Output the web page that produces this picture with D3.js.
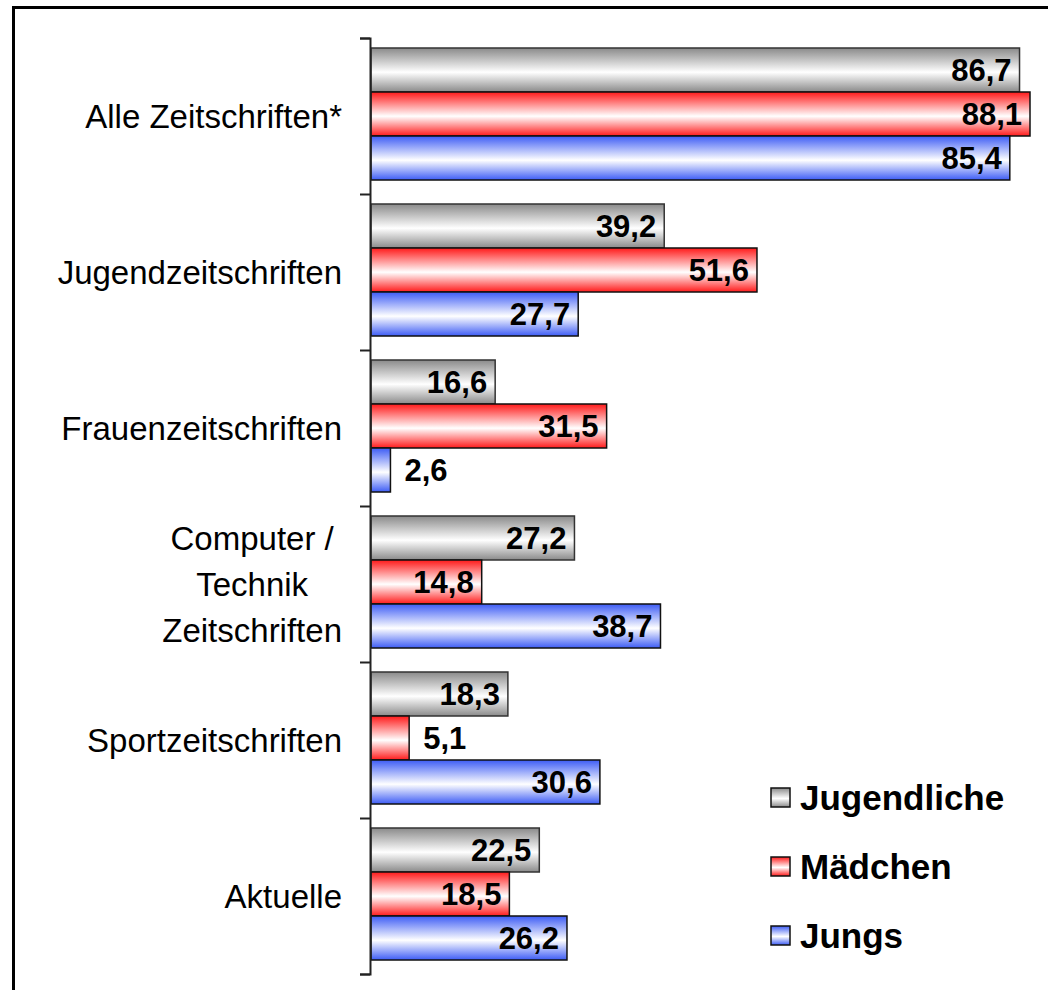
<!DOCTYPE html>
<html>
<head>
<meta charset="utf-8">
<script src="https://cdn.jsdelivr.net/npm/d3@7"></script>
<style>
  body { margin: 0; background: #fff; }
  svg { display: block; font-family: "Liberation Sans", Arial, sans-serif; }
</style>
</head>
<body>
<svg id="svg" width="1048" height="990"></svg>
<script>
// data
let categories = ["Alle Zeitschriften*", "Jugendzeitschriften", "Frauenzeitschriften",
                  "Computer / Technik Zeitschriften", "Sportzeitschriften", "Aktuelle"];
let categoryLines = [["Alle Zeitschriften*"], ["Jugendzeitschriften"], ["Frauenzeitschriften"],
                     ["Computer /", "Technik", "Zeitschriften"], ["Sportzeitschriften"], ["Aktuelle"]];
let seriesNames = ["Jugendliche", "Mädchen", "Jungs"];
let jugendliche = [86.7, 39.2, 16.6, 27.2, 18.3, 22.5];
let maedchen    = [88.1, 51.6, 31.5, 14.8, 5.1, 18.5];
let jungs       = [85.4, 27.7, 2.6, 38.7, 30.6, 26.2];

let seriesValues = [jugendliche, maedchen, jungs];
let edgeColors = ["#8a8a8a", "#ff1a1a", "#3d5cf5"];
let strokeColors = ["#333", "#111", "#111"];

let svg = d3.select("#svg");

// frame (right and bottom edge run off the picture)
svg.append("rect")
    .attr("x", 13.5).attr("y", 7.5)
    .attr("width", 1100).attr("height", 1100)
    .attr("fill", "none")
    .attr("stroke", "#000")
    .attr("stroke-width", 3);

// gradients
let defs = svg.append("defs");
edgeColors.forEach((c, i) => {
    let g = defs.append("linearGradient")
        .attr("id", "grad" + i)
        .attr("x1", 0).attr("y1", 0).attr("x2", 0).attr("y2", 1);
    g.append("stop").attr("offset", "0%").attr("stop-color", c);
    g.append("stop").attr("offset", "55%").attr("stop-color", "#fff");
    g.append("stop").attr("offset", "100%").attr("stop-color", c);
});

let x0 = 371;
let x = d3.scaleLinear().domain([0, 88.1]).range([x0, 1030]);

let y = d3.scaleBand().domain(categories).range([38, 974]).padding(0);
let groupPad = 12;
let ySub = d3.scaleBand().domain(d3.range(3)).range([groupPad - 2, y.bandwidth() - groupPad - 2]).padding(0);

// bars
let groups = svg.selectAll(".group")
    .data(categories)
    .enter()
    .append("g")
    .attr("class", "group")
    .attr("transform", d => `translate(0,${y(d)})`);

groups.each(function(cat, ci) {
    let g = d3.select(this);
    seriesValues.forEach((vals, si) => {
        let v = vals[ci];
        g.append("rect")
            .attr("x", x(0))
            .attr("y", ySub(si))
            .attr("width", x(v) - x(0))
            .attr("height", ySub.bandwidth())
            .attr("fill", `url(#grad${si})`)
            .attr("stroke", strokeColors[si])
            .attr("stroke-width", 1.5);

        let label = v.toFixed(1).replace(".", ",");
        let t = g.append("text")
            .attr("y", ySub(si) + ySub.bandwidth() / 2)
            .attr("dy", "0.36em")
            .attr("font-size", 31)
            .attr("font-weight", "bold")
            .attr("fill", "#000")
            .text(label);
        let w = t.node().getComputedTextLength();
        if (x(v) - x(0) > w + 14) {
            t.attr("x", x(v) - 8).attr("text-anchor", "end");
        } else {
            t.attr("x", x(v) + 14).attr("text-anchor", "start");
        }
    });
});

// axis
let axis = d3.axisLeft(d3.scaleLinear().domain([0, 6]).range([38, 974]))
    .ticks(6)
    .tickSize(10)
    .tickFormat("");
svg.append("g")
    .attr("transform", `translate(${x0 - 1},0)`)
    .call(axis)
    .call(g => g.selectAll("line, path").attr("stroke", "#222").attr("stroke-width", 2));

// category labels (multi-line labels are centred as a block, right-aligned to the axis)
categories.forEach((cat, ci) => {
    let lines = categoryLines[ci];
    let cy = y(cat) + y.bandwidth() / 2;
    let lh = 46;
    let t = svg.append("text")
        .attr("font-size", 33)
        .attr("fill", "#000");
    lines.forEach((ln, li) => {
        t.append("tspan")
            .attr("y", cy + (li - (lines.length - 1) / 2) * lh)
            .attr("dy", "0.36em")
            .text(ln);
    });
    if (lines.length === 1) {
        t.attr("text-anchor", "end").selectAll("tspan").attr("x", 342);
    } else {
        let maxW = d3.max(t.selectAll("tspan").nodes(), n => n.getComputedTextLength());
        t.attr("text-anchor", "middle").selectAll("tspan").attr("x", 342 - maxW / 2);
    }
});

// legend
let legend = svg.append("g");
seriesNames.forEach((name, si) => {
    let ly = 797 + si * 69;
    legend.append("rect")
        .attr("x", 771).attr("y", ly - 9)
        .attr("width", 19).attr("height", 19)
        .attr("fill", `url(#grad${si})`)
        .attr("stroke", "#111")
        .attr("stroke-width", 1.5);
    legend.append("text")
        .attr("x", 800).attr("y", ly)
        .attr("dy", "0.36em")
        .attr("font-size", 35)
        .attr("font-weight", "bold")
        .text(name);
});
</script>
</body>
</html>
